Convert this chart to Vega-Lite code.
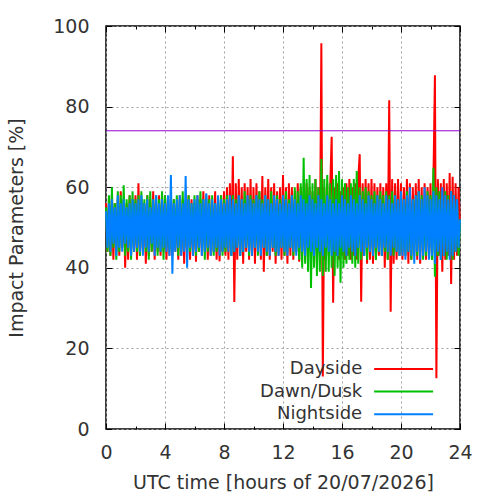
{
  "$schema": "https://vega.github.io/schema/vega-lite/v6.json",
  "description": "Impact parameters by UTC hour, dayside / dawn-dusk / nightside",
  "width": 354,
  "height": 403,
  "autosize": {"type": "none"},
  "padding": {"left": 106, "top": 26, "right": 40, "bottom": 71},
  "config": {
    "font": "DejaVu Sans",
    "view": {"stroke": "black", "strokeWidth": 1.5},
    "axis": {
      "domain": false,
      "tickColor": "black",
      "tickWidth": 1,
      "labelColor": "#333",
      "labelFontSize": 19,
      "titleColor": "#333",
      "titleFontSize": 19,
      "titleFontWeight": "normal",
      "gridColor": "#a0a0a0",
      "gridDash": [2, 3],
      "gridWidth": 1,
      "labelFlush": false,
      "labelOverlap": false
    }
  },
  "resolve": {"axis": {"x": "independent", "y": "independent"}},
  "layer": [
    {
      "data": {
        "values": [
          {"t":0,"d":56,"g":55,"n":54},{"t":0.1,"d":44,"g":44,"n":45},{"t":0.2,"d":57,"g":58,"n":56},{"t":0.3,"d":43,"g":43,"n":44},
          {"t":0.4,"d":58,"g":60,"n":57},{"t":0.5,"d":42,"g":45,"n":46},{"t":0.6,"d":56,"g":56,"n":55},{"t":0.7,"d":44,"g":42,"n":43},
          {"t":0.8,"d":57,"g":59,"n":58},{"t":0.9,"d":43,"g":44,"n":45},{"t":1.0,"d":59,"g":58,"n":56},{"t":1.1,"d":45,"g":45,"n":44},
          {"t":1.2,"d":57,"g":60.5,"n":57},{"t":1.3,"d":40,"g":43,"n":46},{"t":1.4,"d":56,"g":57,"n":55},{"t":1.5,"d":42,"g":44,"n":45},
          {"t":1.6,"d":58,"g":58,"n":56},{"t":1.7,"d":43,"g":42,"n":43},{"t":1.8,"d":57,"g":59,"n":57},{"t":1.9,"d":44,"g":45,"n":44},
          {"t":2.0,"d":58,"g":57,"n":56},{"t":2.1,"d":42,"g":44,"n":45},{"t":2.2,"d":61,"g":58,"n":57},{"t":2.3,"d":43,"g":43,"n":44},
          {"t":2.4,"d":57,"g":59,"n":58},{"t":2.5,"d":44,"g":45,"n":43},{"t":2.6,"d":56,"g":57,"n":56},{"t":2.7,"d":41,"g":44,"n":45},
          {"t":2.8,"d":58,"g":58,"n":57},{"t":2.9,"d":43,"g":42,"n":44},{"t":3.0,"d":57,"g":59,"n":55},{"t":3.1,"d":44,"g":44,"n":46},
          {"t":3.2,"d":59,"g":57,"n":57},{"t":3.3,"d":42,"g":45,"n":43},{"t":3.4,"d":56,"g":58,"n":58},{"t":3.5,"d":44,"g":43,"n":45},
          {"t":3.6,"d":58,"g":57,"n":56},{"t":3.7,"d":43,"g":44,"n":44},{"t":3.8,"d":57,"g":59,"n":57},{"t":3.9,"d":44,"g":42,"n":45},
          {"t":4.0,"d":58,"g":58,"n":56},{"t":4.1,"d":42,"g":45,"n":44},{"t":4.2,"d":57,"g":57,"n":58},{"t":4.3,"d":43,"g":44,"n":43},
          {"t":4.4,"d":58,"g":58,"n":63},{"t":4.5,"d":43,"g":44,"n":38.5},{"t":4.6,"d":57,"g":57,"n":56},{"t":4.7,"d":44,"g":45,"n":44},
          {"t":4.8,"d":56,"g":58,"n":57},{"t":4.9,"d":42,"g":43,"n":45},{"t":5.0,"d":58,"g":57,"n":58},{"t":5.1,"d":43,"g":44,"n":43},
          {"t":5.2,"d":57,"g":59,"n":56},{"t":5.3,"d":41,"g":45,"n":44},{"t":5.4,"d":56,"g":57,"n":62.8},{"t":5.5,"d":44,"g":43,"n":40},
          {"t":5.6,"d":58,"g":58,"n":57},{"t":5.7,"d":42,"g":44,"n":45},{"t":5.8,"d":57,"g":56,"n":56},{"t":5.9,"d":43,"g":45,"n":43},
          {"t":6.0,"d":56,"g":58,"n":57},{"t":6.1,"d":41.5,"g":43,"n":44},{"t":6.2,"d":58,"g":57,"n":58},{"t":6.3,"d":44,"g":44,"n":45},
          {"t":6.4,"d":57,"g":59,"n":56},{"t":6.5,"d":43,"g":45,"n":43},{"t":6.6,"d":59,"g":57,"n":57},{"t":6.7,"d":44,"g":42,"n":44},
          {"t":6.8,"d":57,"g":58,"n":58.5},{"t":6.9,"d":42,"g":44,"n":45},{"t":7.0,"d":58,"g":57,"n":56},{"t":7.1,"d":43,"g":45,"n":43},
          {"t":7.2,"d":56,"g":58,"n":57},{"t":7.3,"d":44,"g":43,"n":44},{"t":7.4,"d":59,"g":56,"n":56},{"t":7.5,"d":42,"g":44,"n":45},
          {"t":7.6,"d":57,"g":57,"n":58},{"t":7.7,"d":41.6,"g":45,"n":43},{"t":7.8,"d":58,"g":58,"n":57},{"t":7.9,"d":44,"g":43,"n":44},
          {"t":8.0,"d":59,"g":57,"n":56},{"t":8.1,"d":43,"g":44,"n":45},{"t":8.2,"d":60,"g":58,"n":57},{"t":8.3,"d":42,"g":45,"n":44},
          {"t":8.4,"d":61,"g":57,"n":58},{"t":8.5,"d":43,"g":43,"n":43},{"t":8.6,"d":67.7,"g":58,"n":57},{"t":8.7,"d":31.5,"g":44,"n":44},
          {"t":8.8,"d":61,"g":57,"n":56},{"t":8.9,"d":42,"g":45,"n":45},{"t":9.0,"d":62,"g":58,"n":58},{"t":9.1,"d":43,"g":43,"n":43},
          {"t":9.2,"d":60,"g":57,"n":57},{"t":9.3,"d":41,"g":44,"n":44},{"t":9.4,"d":61,"g":59,"n":56},{"t":9.5,"d":44,"g":45,"n":45},
          {"t":9.6,"d":60,"g":57,"n":58},{"t":9.7,"d":42,"g":43,"n":44},{"t":9.8,"d":62,"g":58,"n":57},{"t":9.9,"d":43,"g":44,"n":43},
          {"t":10.0,"d":60,"g":57,"n":56},{"t":10.1,"d":41,"g":45,"n":45},{"t":10.2,"d":61,"g":58,"n":58},{"t":10.3,"d":44,"g":43,"n":44},
          {"t":10.4,"d":59,"g":59,"n":57},{"t":10.5,"d":42,"g":44,"n":43},{"t":10.6,"d":62.8,"g":57,"n":56},{"t":10.7,"d":39,"g":45,"n":45},
          {"t":10.8,"d":60,"g":58,"n":58},{"t":10.9,"d":43,"g":43,"n":44},{"t":11.0,"d":62,"g":57,"n":57},{"t":11.1,"d":42,"g":44,"n":43},
          {"t":11.2,"d":60,"g":59,"n":56},{"t":11.3,"d":44,"g":45,"n":45},{"t":11.4,"d":61,"g":57,"n":58},{"t":11.5,"d":41,"g":43,"n":44},
          {"t":11.6,"d":59,"g":58,"n":57},{"t":11.7,"d":43,"g":44,"n":43},{"t":11.8,"d":60,"g":57,"n":56},{"t":11.9,"d":42,"g":45,"n":45},
          {"t":12.0,"d":63,"g":58,"n":58},{"t":12.1,"d":43,"g":43,"n":44},{"t":12.2,"d":60,"g":59,"n":57},{"t":12.3,"d":41,"g":44,"n":43},
          {"t":12.4,"d":61,"g":57,"n":56},{"t":12.5,"d":43,"g":45,"n":45},{"t":12.6,"d":60,"g":58,"n":58},{"t":12.7,"d":42,"g":43,"n":44},
          {"t":12.8,"d":59,"g":60,"n":57},{"t":12.9,"d":44,"g":44,"n":43},{"t":13.0,"d":61,"g":59,"n":56},{"t":13.1,"d":41.5,"g":42,"n":45},
          {"t":13.2,"d":60,"g":61,"n":58},{"t":13.3,"d":43,"g":40,"n":44},{"t":13.4,"d":59,"g":67.3,"n":57},{"t":13.5,"d":42,"g":41,"n":43},
          {"t":13.6,"d":61,"g":62,"n":56},{"t":13.7,"d":44,"g":39,"n":45},{"t":13.8,"d":60,"g":63,"n":58},{"t":13.9,"d":43,"g":35,"n":44},
          {"t":14.0,"d":59,"g":61,"n":57},{"t":14.1,"d":42,"g":40,"n":43},{"t":14.2,"d":62,"g":62,"n":56},{"t":14.3,"d":41,"g":38,"n":45},
          {"t":14.4,"d":60,"g":60,"n":58},{"t":14.5,"d":43,"g":39,"n":44},{"t":14.6,"d":95.7,"g":67,"n":57},{"t":14.7,"d":13,"g":38,"n":43},
          {"t":14.8,"d":60,"g":62,"n":56},{"t":14.9,"d":42,"g":39,"n":45},{"t":15.0,"d":61,"g":63,"n":58},{"t":15.1,"d":43,"g":39,"n":44},
          {"t":15.2,"d":60,"g":61,"n":57},{"t":15.3,"d":72.5,"g":40,"n":43},{"t":15.4,"d":31.3,"g":62,"n":56},{"t":15.5,"d":60,"g":38,"n":44},
          {"t":15.6,"d":43,"g":63,"n":57},{"t":15.7,"d":61,"g":40,"n":43},{"t":15.8,"d":42,"g":64,"n":56},{"t":15.9,"d":59,"g":36.3,"n":45},
          {"t":16.0,"d":43,"g":62,"n":58},{"t":16.1,"d":60,"g":40,"n":44},{"t":16.2,"d":42,"g":61,"n":57},{"t":16.3,"d":61,"g":41,"n":43},
          {"t":16.4,"d":43,"g":60,"n":56},{"t":16.5,"d":62,"g":42,"n":45},{"t":16.6,"d":42,"g":61,"n":58},{"t":16.7,"d":60,"g":41,"n":44},
          {"t":16.8,"d":43,"g":62,"n":57},{"t":16.9,"d":61,"g":40,"n":43},{"t":17.0,"d":42,"g":64,"n":56},{"t":17.1,"d":62,"g":41,"n":45},
          {"t":17.2,"d":68.2,"g":60,"n":58},{"t":17.3,"d":31.6,"g":42,"n":44},{"t":17.4,"d":61,"g":59,"n":57},{"t":17.5,"d":43,"g":43,"n":43},
          {"t":17.6,"d":62,"g":60,"n":56},{"t":17.7,"d":41,"g":42,"n":45},{"t":17.8,"d":61,"g":59,"n":58},{"t":17.9,"d":42,"g":44,"n":44},
          {"t":18.0,"d":62,"g":58,"n":57},{"t":18.1,"d":41,"g":43,"n":43},{"t":18.2,"d":61,"g":59,"n":56},{"t":18.3,"d":42,"g":42,"n":45},
          {"t":18.4,"d":60,"g":58,"n":58},{"t":18.5,"d":43,"g":44,"n":44},{"t":18.6,"d":61,"g":59,"n":57},{"t":18.7,"d":43,"g":43,"n":43},
          {"t":18.8,"d":60,"g":58,"n":56},{"t":18.9,"d":40,"g":44,"n":45},{"t":19.0,"d":61,"g":59,"n":58},{"t":19.1,"d":42,"g":42,"n":44},
          {"t":19.2,"d":81.6,"g":58,"n":57},{"t":19.3,"d":29.1,"g":44,"n":43},{"t":19.4,"d":62,"g":59,"n":56},{"t":19.5,"d":41,"g":43,"n":45},
          {"t":19.6,"d":61,"g":58,"n":58},{"t":19.7,"d":42,"g":44,"n":44},{"t":19.8,"d":62,"g":57,"n":57},{"t":19.9,"d":43,"g":43,"n":43},
          {"t":20.0,"d":61,"g":58,"n":59},{"t":20.1,"d":42,"g":44,"n":43},{"t":20.2,"d":60,"g":57,"n":57},{"t":20.3,"d":43,"g":43,"n":42},
          {"t":20.4,"d":62,"g":59,"n":58},{"t":20.5,"d":41,"g":44,"n":44},{"t":20.6,"d":61,"g":58,"n":60},{"t":20.7,"d":42,"g":42,"n":43},
          {"t":20.8,"d":60,"g":57,"n":57},{"t":20.9,"d":43,"g":44,"n":41},{"t":21.0,"d":61,"g":58,"n":58},{"t":21.1,"d":42,"g":43,"n":44},
          {"t":21.2,"d":62,"g":59,"n":59},{"t":21.3,"d":41,"g":44,"n":42},{"t":21.4,"d":60,"g":58,"n":57},{"t":21.5,"d":43,"g":42,"n":43},
          {"t":21.6,"d":61,"g":57,"n":60},{"t":21.7,"d":42,"g":43,"n":44},{"t":21.8,"d":60,"g":59,"n":58},{"t":21.9,"d":43,"g":44,"n":42},
          {"t":22.0,"d":61,"g":58,"n":57},{"t":22.1,"d":42,"g":42,"n":43},{"t":22.2,"d":62,"g":64.8,"n":59},{"t":22.3,"d":87.8,"g":37.8,"n":41},
          {"t":22.4,"d":12.6,"g":60,"n":58},{"t":22.5,"d":62,"g":43,"n":44},{"t":22.6,"d":43,"g":59,"n":57},{"t":22.7,"d":61,"g":42,"n":42},
          {"t":22.8,"d":39,"g":58,"n":60},{"t":22.9,"d":62,"g":43,"n":43},{"t":23.0,"d":42,"g":59,"n":58},{"t":23.1,"d":61,"g":42,"n":44},
          {"t":23.2,"d":43,"g":58,"n":57},{"t":23.3,"d":63.5,"g":43,"n":42},{"t":23.4,"d":36,"g":59,"n":59},{"t":23.5,"d":62.6,"g":42,"n":43},
          {"t":23.6,"d":42,"g":58,"n":58},{"t":23.7,"d":61,"g":44,"n":44},{"t":23.8,"d":43,"g":57,"n":57},{"t":23.9,"d":60,"g":43,"n":45},
          {"t":24.0,"d":50,"g":52,"n":52}
        ]
      },
      "transform": [{"fold": ["d", "g", "n"], "as": ["s", "v"]}],
      "encoding": {
        "x": {
          "field": "t",
          "type": "quantitative",
          "scale": {"domain": [0, 24], "nice": false},
          "axis": {
            "orient": "bottom",
            "values": [0, 2, 4, 6, 8, 10, 12, 14, 16, 18, 20, 22, 24],
            "labelExpr": "datum.value % 4 === 0 ? datum.label : ''",
            "tickSize": {"condition": {"test": "datum.value % 4 === 0", "value": -6}, "value": -3},
            "grid": true,
            "gridOpacity": {"condition": {"test": "datum.value % 4 === 0", "value": 1}, "value": 0},
            "labelPadding": 20,
            "title": "UTC time [hours of 20/07/2026]",
            "titlePadding": 8
          }
        },
        "y": {
          "field": "v",
          "type": "quantitative",
          "scale": {"domain": [0, 100], "nice": false},
          "axis": {
            "values": [0, 20, 40, 60, 80, 100],
            "tickSize": -6,
            "grid": true,
            "labelPadding": 23,
            "title": "Impact Parameters [%]",
            "titlePadding": 26
          }
        },
        "color": {
          "field": "s",
          "type": "nominal",
          "scale": {"domain": ["d", "g", "n"], "range": ["#ff0000", "#00c000", "#0080ff"]},
          "legend": {
            "orient": "none",
            "legendX": 288.6,
            "legendY": 334,
            "title": null,
            "padding": 0,
            "symbolType": "M-5,0H5",
            "symbolSize": 139,
            "symbolStrokeWidth": 2,
            "labelAlign": "right",
            "labelOffset": -50.4,
            "rowPadding": 4.6,
            "labelFontSize": 18,
            "labelColor": "#333",
            "labelExpr": "datum.label == 'd' ? 'Dayside' : datum.label == 'g' ? 'Dawn/Dusk' : 'Nightside'"
          }
        }
      },
      "layer": [
        {"transform": [{"filter": "datum.s == 'd'"}], "mark": {"type": "line", "strokeWidth": 2}},
        {"transform": [{"filter": "datum.s == 'g'"}], "mark": {"type": "line", "strokeWidth": 2}},
        {"transform": [{"filter": "datum.s == 'n'"}], "mark": {"type": "line", "strokeWidth": 2}}
      ]
    },
    {
      "data": {"values": [{}]},
      "mark": {"type": "rule", "color": "#9400d3", "strokeWidth": 1},
      "encoding": {
        "y": {
          "datum": 74,
          "type": "quantitative",
          "axis": {"orient": "right", "values": [0, 20, 40, 60, 80, 100], "tickSize": -6, "labels": false, "title": null, "grid": false}
        },
        "x": {
          "datum": 0,
          "type": "quantitative",
          "axis": {
            "orient": "top",
            "values": [0, 2, 4, 6, 8, 10, 12, 14, 16, 18, 20, 22, 24],
            "tickSize": {"condition": {"test": "datum.value % 4 === 0", "value": -6}, "value": -3},
            "labels": false,
            "title": null,
            "grid": false
          }
        },
        "x2": {"datum": 24}
      }
    }
  ]
}
